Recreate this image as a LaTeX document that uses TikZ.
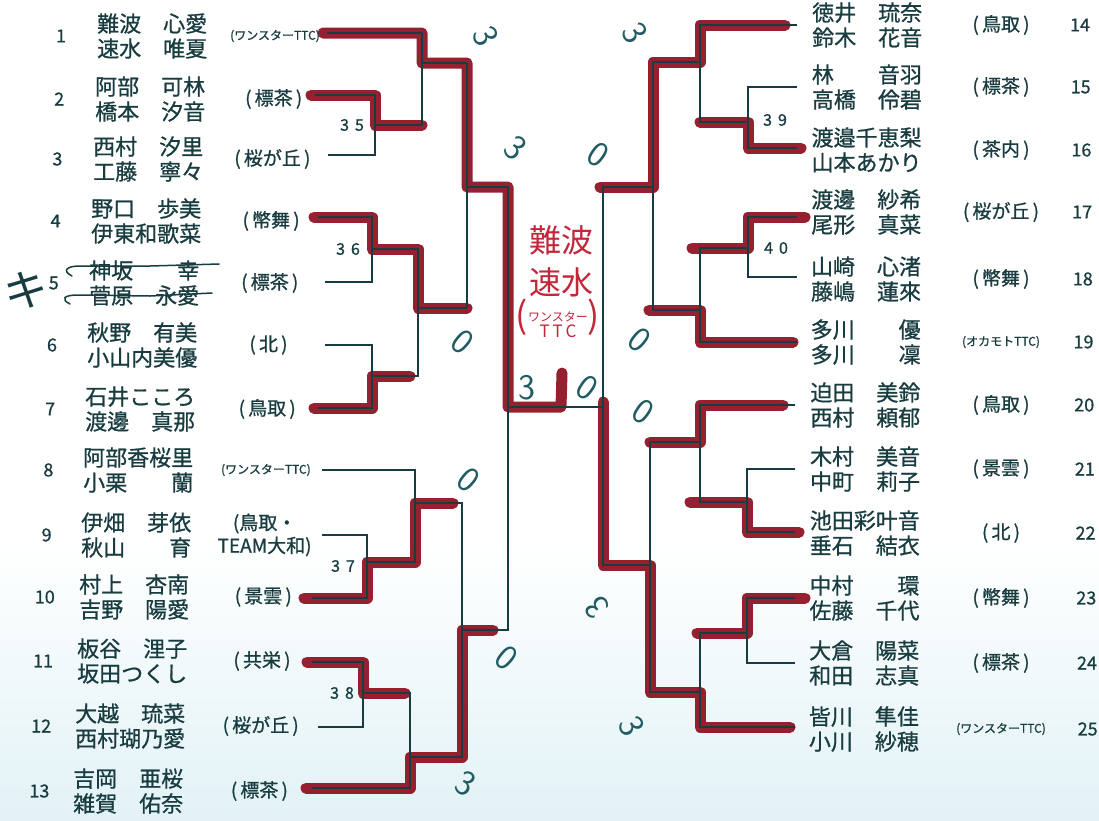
\documentclass[tikz,border=0pt]{standalone}
\usepackage{fontspec}
\newfontfamily\jp{Noto Sans CJK JP}[FakeBold=0.8]
\newfontfamily\jpl{Noto Sans CJK JP}
\usepackage{tikz}
\definecolor{ink}{RGB}{24,60,64}
\definecolor{pen}{RGB}{32,92,98}
\definecolor{marker}{RGB}{142,16,32}
\definecolor{redpen}{RGB}{196,38,58}
\definecolor{tint}{RGB}{226,242,246}
\newcommand\club[1]{(\,#1\,)}
\newcommand\smclub[1]{{\fontsize{12}{14}\selectfont(#1)}}
\tikzset{
  bline/.style={draw=ink, line width=1.3pt},
  hit/.style={draw=marker, line width=11pt, line cap=round, line join=round, opacity=0.93},
  num/.style={font=\jp\fontsize{18}{18}\selectfont, text=ink, inner sep=0pt},
  pname/.style={font=\jp\fontsize{22}{25}\selectfont, text=ink, align=left, inner sep=0pt, anchor=west},
  team/.style={font=\jp\fontsize{19}{23}\selectfont, text=ink, align=center, inner sep=0pt},
  score/.style={font=\sffamily\fontsize{36}{36}\selectfont, text=pen, inner sep=0pt},
  mno/.style={font=\jp\fontsize{16}{16}\selectfont, text=ink, inner sep=0pt}
}

\begin{document}
\begin{tikzpicture}[x=1pt,y=-1pt]
        \useasboundingbox (0,0) rectangle (1099,820);
        \fill[white] (0,0) rectangle (1099,820);
        \shade[top color=white, bottom color=tint] (0,540) rectangle (1099,820);
        \coordinate (p1) at (327,33);   \coordinate (q1) at (422,33);
        \coordinate (p2) at (315,95);   \coordinate (q2) at (375,95);
        \coordinate (p3) at (328,155);  \coordinate (q3) at (375,155);
        \coordinate (p4) at (318,217);  \coordinate (q4) at (372,217);
        \coordinate (p5) at (325,282);  \coordinate (q5) at (372,282);
        \coordinate (p6) at (325,345);  \coordinate (q6) at (372,345);
        \coordinate (p7) at (318,408);  \coordinate (q7) at (372,408);
        \coordinate (p8) at (322,470);  \coordinate (q8) at (415,470);
        \coordinate (p9) at (322,535);  \coordinate (q9) at (367,535);
        \coordinate (p10) at (312,598); \coordinate (q10) at (367,598);
        \coordinate (p11) at (312,662); \coordinate (q11) at (363,662);
        \coordinate (p12) at (318,727); \coordinate (q12) at (363,727);
        \coordinate (p13) at (312,788); \coordinate (q13) at (410,788);
        \coordinate (m35) at (375,125); \coordinate (w35) at (422,125);
        \coordinate (m1) at (422,63);   \coordinate (w1) at (467,63);
        \coordinate (m36) at (372,249); \coordinate (w36) at (418,249);
        \coordinate (m67) at (372,376); \coordinate (w67) at (418,376);
        \coordinate (m4) at (418,308);  \coordinate (w4) at (467,308);
        \coordinate (ml) at (467,187);  \coordinate (wl) at (508,187);
        \coordinate (m37) at (367,562); \coordinate (w37) at (415,562);
        \coordinate (m8) at (415,503);  \coordinate (w8) at (462,503);
        \coordinate (m38) at (363,693); \coordinate (w38) at (410,693);
        \coordinate (m13) at (410,757); \coordinate (w13) at (462,757);
        \coordinate (mb) at (462,630);  \coordinate (wb) at (508,630);
        \coordinate (fl) at (508,407);  \coordinate (fr) at (603,407);
        \coordinate (cb) at (561,407);  \coordinate (ch) at (562,373);
        \coordinate (p14) at (797,25);  \coordinate (q14) at (700,25);
        \coordinate (p15) at (797,87);  \coordinate (q15) at (748,87);
        \coordinate (p16) at (797,148); \coordinate (q16) at (748,148);
        \coordinate (m39) at (748,122); \coordinate (w39) at (700,122);
        \coordinate (m14) at (700,62);  \coordinate (w14) at (653,62);
        \coordinate (p17) at (797,217); \coordinate (q17) at (748,217);
        \coordinate (p18) at (797,277); \coordinate (q18) at (748,277);
        \coordinate (m40) at (748,248); \coordinate (w40) at (700,248);
        \coordinate (p19) at (797,342); \coordinate (q19) at (700,342);
        \coordinate (m19) at (700,310); \coordinate (w19) at (653,310);
        \coordinate (mr) at (653,187);  \coordinate (wr) at (603,187);
        \coordinate (p20) at (795,405); \coordinate (q20) at (700,405);
        \coordinate (p21) at (795,469); \coordinate (q21) at (747,469);
        \coordinate (p22) at (795,532); \coordinate (q22) at (747,532);
        \coordinate (m22) at (747,502); \coordinate (w22) at (700,502);
        \coordinate (m20) at (700,442); \coordinate (w20) at (650,442);
        \coordinate (p23) at (795,598); \coordinate (q23) at (747,598);
        \coordinate (p24) at (795,663); \coordinate (q24) at (747,663);
        \coordinate (m23) at (747,633); \coordinate (w23) at (700,633);
        \coordinate (p25) at (795,727); \coordinate (q25) at (700,727);
        \coordinate (m25) at (700,692); \coordinate (w25) at (650,692);
        \coordinate (mc) at (650,565);  \coordinate (wc) at (603,565);
        \draw[hit] ([xshift=-4pt]p1) -- (q1) -- (m1) -- (w1) -- (ml) -- (wl) -- (fl) -- (cb) -- (ch);
        \draw[hit] ([xshift=-4pt]p2) -- (q2) -- (m35) -- (w35);
        \draw[hit] ([xshift=-4pt]p4) -- (q4) -- (m36) -- (w36) -- (m4) -- (w4);
        \draw[hit] ([xshift=-4pt]p7) -- (q7) -- (m67) -- ([xshift=-8pt]w67);
        \draw[hit] ([xshift=-8pt]p10) -- (q10) -- (m37) -- (w37) -- (m8) -- ([xshift=-9pt]w8);
        \draw[hit] ([xshift=-5pt]p11) -- (q11) -- (m38) -- ([xshift=-5pt]w38);
        \draw[hit] ([xshift=-6pt]p13) -- (q13) -- (m13) -- (w13) -- (mb) -- ([xshift=-15pt]wb);
        \draw[hit] ([xshift=-12pt]p14) -- (q14) -- (m14) -- (w14) -- (mr) -- ([xshift=-3pt]wr);
        \draw[hit] ([xshift=4pt]p16) -- (q16) -- (m39) -- (w39);
        \draw[hit] ([xshift=8pt]p17) -- (q17) -- (m40) -- ([xshift=-8pt]w40);
        \draw[hit] ([xshift=-4pt]p19) -- (q19) -- (m19) -- ([xshift=-4pt]w19);
        \draw[hit] ([xshift=-12pt]p20) -- (q20) -- (m20) -- (w20);
        \draw[hit] ([xshift=4pt]p22) -- (q22) -- (m22) -- ([xshift=-10pt]w22);
        \draw[hit] ([xshift=10pt]p23) -- (q23) -- (m23) -- ([xshift=-3pt]w23);
        \draw[hit] ([xshift=-5pt]p25) -- (q25) -- (m25) -- (w25) -- (mc) -- (wc) -- ([yshift=5pt]fr);
        \draw[bline] (p1) -- (q1) -- (w35) -- (m35) (p2) -- (q2) -- (q3) -- (p3) (m1) -- (w1);
        \draw[bline] (p4) -- (q4) -- (q5) -- (p5) (m36) -- (w36) -- (w67) -- (m67) (p6) -- (q6) -- (q7) -- (p7);
        \draw[bline] (m4) -- (w4) (w1) -- (w4) (ml) -- (wl) -- (wb) -- (mb) (fl) -- (fr);
        \draw[bline] (p8) -- (q8) -- (w37) -- (m37) (p9) -- (q9) -- (q10) -- (p10) (m8) -- (w8) -- (w13) -- (m13);
        \draw[bline] (p11) -- (q11) -- (q12) -- (p12) (m38) -- (w38) -- (q13) -- (p13);
        \draw[bline] (p14) -- (q14) -- (w39) -- (m39) (p15) -- (q15) -- (q16) -- (p16) (m14) -- (w14) -- (w19) -- (m19);
        \draw[bline] (p17) -- (q17) -- (q18) -- (p18) (m40) -- (w40) -- (q19) -- (p19) (mr) -- (wr) -- (wc) -- (mc);
        \draw[bline] (p20) -- (q20) -- (w22) -- (m22) (p21) -- (q21) -- (q22) -- (p22) (m20) -- (w20) -- (w25) -- (m25);
        \draw[bline] (p23) -- (q23) -- (q24) -- (p24) (m23) -- (w23) -- (q25) -- (p25);
        \foreach \n/\y/\a/\b/\c in {1/36/難波　心愛/速水　唯夏/\smclub{ワンスターTTC},
            2/99/阿部　可林/橋本　汐音/\club{標茶}, 3/159/西村　汐里/工藤　寧々/\club{桜が丘},
            4/221/野口　歩美/伊東和歌菜/\club{幣舞}, 5/283/神坂　　幸/菅原　永愛/\club{標茶},
            6/345/秋野　有美/小山内美優/\club{北}, 7/409/石井こころ/渡邊　真那/\club{鳥取},
            8/470/阿部香桜里/小栗　　蘭/\smclub{ワンスターTTC}, 9/535/伊畑　芽依/秋山　　育/{(鳥取・\\TEAM大和)},
            10/597/村上　杏南/吉野　陽愛/\club{景雲}, 11/661/板谷　浬子/坂田つくし/\club{共栄},
            12/726/大越　琉菜/西村瑚乃愛/\club{桜が丘}, 13/791/吉岡　亜桜/雑賀　佑奈/\club{標茶}}{
        \node[num] (n\n) at ({61-1.8*(\n-1)},\y) {\n};
        \node[pname] (a\n) at ({97-2*(\n-1)},\y) {\a\\\b};
        \node[team] (c\n) at ({275-1.3*(\n-1)},\y) {\c};
        }
        \foreach \n/\y/\a/\b/\c in {14/25/徳井　琉奈/鈴木　花音/\club{鳥取},
            15/87/林　　音羽/高橋　伶碧/\club{標茶}, 16/150/渡邉千恵梨/山本あかり/\club{茶内},
            17/212/渡邊　紗希/尾形　真菜/\club{桜が丘}, 18/279/山崎　心渚/藤嶋　蓮來/\club{幣舞},
            19/342/多川　　優/多川　　凜/\smclub{オカモトTTC}, 20/405/迫田　美鈴/西村　頼郁/\club{鳥取},
            21/469/木村　美音/中町　莉子/\club{景雲}, 22/533/池田彩叶音/垂石　結衣/\club{北},
            23/598/中村　　環/佐藤　千代/\club{幣舞}, 24/663/大倉　陽菜/和田　志真/\club{標茶},
            25/729/皆川　隼佳/小川　紗穂/\smclub{ワンスターTTC}}{
        \node[num] (n\n) at ({1080+0.7*(\n-14)},\y) {\n};
        \node[pname] (a\n) at ({812-0.3*(\n-14)},\y) {\a\\\b};
        \node[team] (c\n) at (1001,\y) {\c};
        }
        \foreach \u/\v/\x/\y in {3/5/352/125, 3/6/348/249, 3/7/343/566, 3/8/342/693, 3/9/775/120, 4/0/776/248}{
        \node[mno] (k\u\v) at (\x,\y) {\u\hspace{6pt}\v};
        }
        \foreach \i/\x/\y/\t/\r in {1/486/36/3/-65, 2/516/148/3/-40, 3/463/342/0/-40, 4/527/388/3/0,
            5/587/388/0/-35, 6/469/480/0/-40, 7/507/658/0/-40, 8/466/783/3/-30, 9/635/33/3/-60,
            10/598/155/0/-35, 11/640/340/0/-40, 12/643/412/0/-35, 13/597/608/3/130, 14/632/726/3/-65}{
        \node[score, rotate=\r] (s\i) at (\x,\y) {\t};
        }
        \node[font=\jpl\fontsize{32}{42}\selectfont, text=redpen, align=center] (champ) at (561,261) {難波\\速水};
        \node[font=\jpl, text=redpen, inner sep=0pt] (champclub) at (558,320) {{\fontsize{36}{36}\selectfont(}\begin{tabular}{@{}c@{}}\fontsize{12}{13}\selectfont ワンスター\\[-1pt]\fontsize{17}{17}\selectfont T\,T\,C\end{tabular}{\fontsize{36}{36}\selectfont)}};
        \node[font=\jpl\fontsize{44}{44}\selectfont, text=ink, rotate=8] (ki) at (26,290) {キ};
        \draw[ink, line width=1.5pt, line cap=round] (72,276) .. controls (62,271) and (66,266) .. (80,266) -- (150,266) -- (219,264);
        \draw[ink, line width=1.5pt, line cap=round] (70,304) .. controls (60,299) and (64,295) .. (78,295) -- (150,296) -- (212,293);
      \end{tikzpicture}
\end{document}
